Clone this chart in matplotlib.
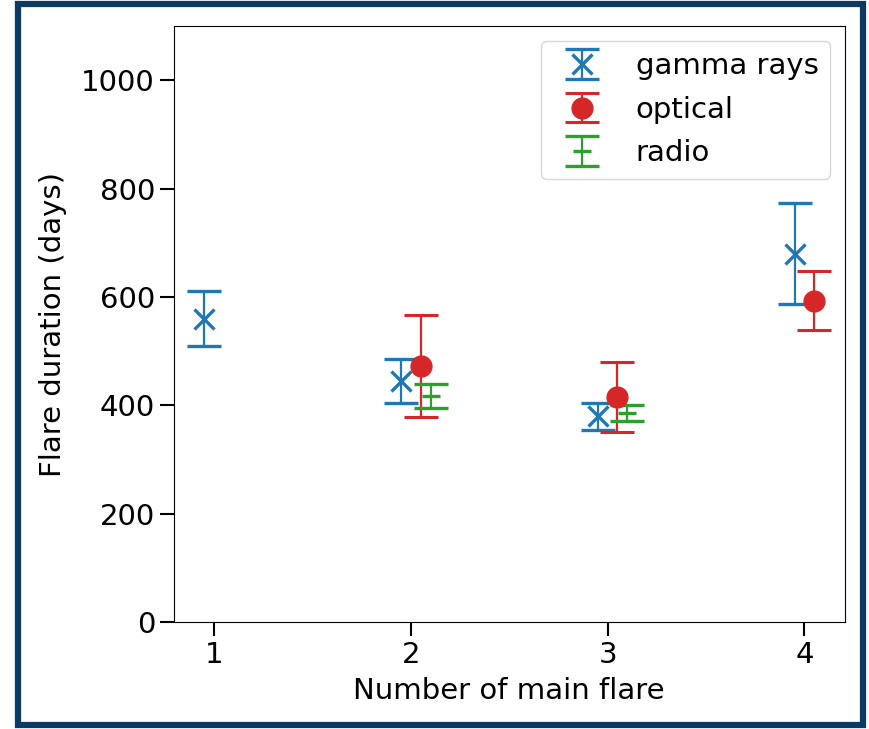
import matplotlib
matplotlib.use("Agg")
import matplotlib.pyplot as plt
from matplotlib.patches import Rectangle
import numpy as np

# Flare durations (days) with 1-sigma uncertainties per band
gamma_flares = [1, 2, 3, 4]
gamma_dur = [560, 445, 380, 680]
gamma_err = [50, 40, 25, 93]

optical_flares = [2, 3, 4]
optical_dur = [472, 415, 593]
optical_err = [94, 65, 54]

radio_flares = [2, 3]
radio_dur = [417, 386]
radio_err = [22, 15]

xticks = [1, 2, 3, 4]
yticks = [0, 200, 400, 600, 800, 1000]

plt.rcParams["font.family"] = ["DejaVu Sans"]
fs = 21

fig = plt.figure(figsize=(8.69, 7.29), dpi=100)
ax = fig.add_axes([0.200, 0.1468, 0.772, 0.8175])

common = dict(linestyle="none", elinewidth=1.6, capsize=12, capthick=2.2)
ax.errorbar(np.array(gamma_flares) - 0.05, gamma_dur, yerr=gamma_err,
            fmt="x", color="tab:blue", ms=14, mew=2.4, label="gamma rays", **common)
ax.errorbar(np.array(optical_flares) + 0.05, optical_dur, yerr=optical_err,
            fmt="o", color="tab:red", ms=15, label="optical", **common)
ax.errorbar(np.array(radio_flares) + 0.10, radio_dur, yerr=radio_err,
            fmt="_", color="tab:green", ms=13, mew=2.4, label="radio", **common)

ax.set_xlim(0.795, 4.205)
ax.set_ylim(0, 1100)
ax.set_xticks(xticks)
ax.set_yticks(yticks)
ax.tick_params(labelsize=fs, length=10, width=1.5)
ax.set_xlabel("Number of main flare", fontsize=fs, labelpad=6)
ax.set_ylabel("Flare duration (days)", fontsize=fs, labelpad=10)
ax.legend(loc="upper right", fontsize=fs, handlelength=2.0, borderpad=0.4,
          labelspacing=0.53, handletextpad=0.85)

# dark frame around the whole figure
fig.patches.append(Rectangle((18 / 869, 4 / 729), 845 / 869, 721 / 729,
                             transform=fig.transFigure, fill=False,
                             edgecolor="#0b3a63", linewidth=4.5))

fig.savefig("out.png", dpi=100)
